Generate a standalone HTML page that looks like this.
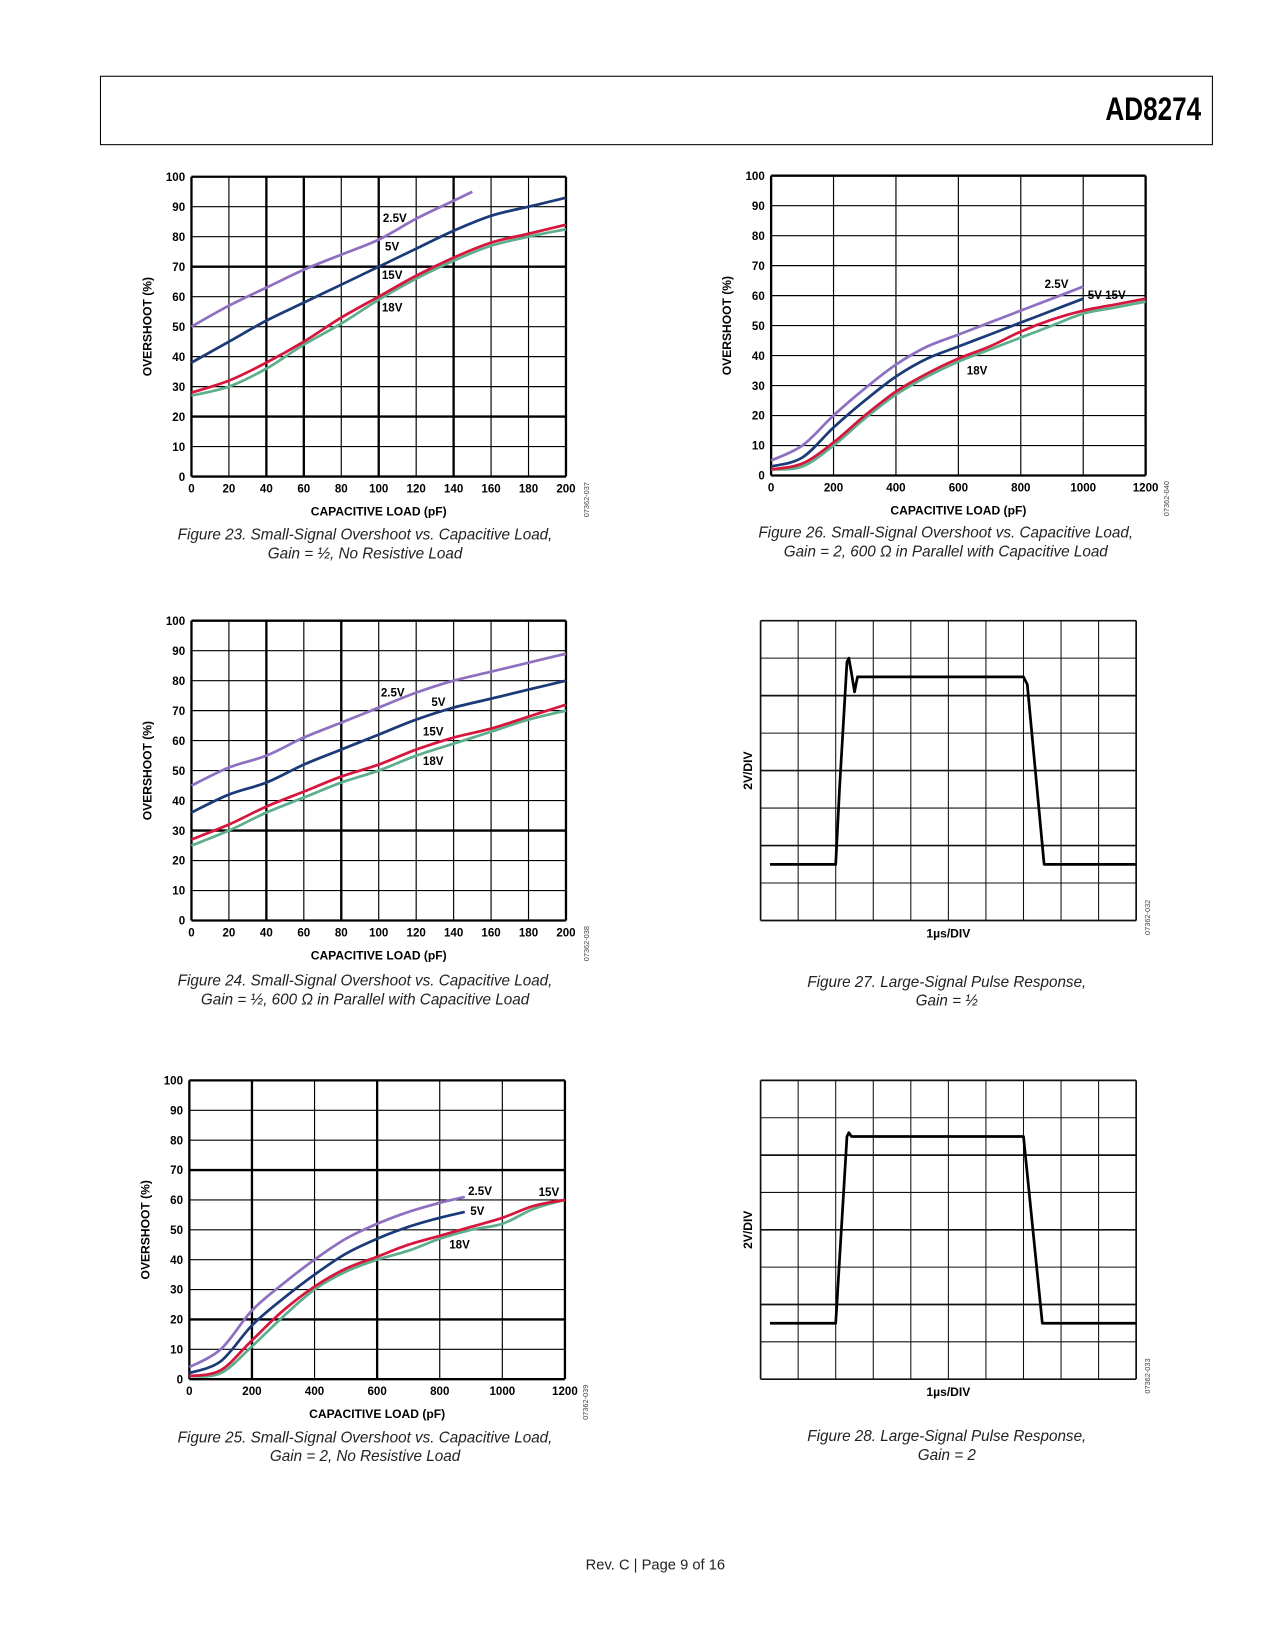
<!DOCTYPE html>
<html><head><meta charset="utf-8">
<style>
html,body{margin:0;padding:0;background:#fff;}
body{width:1275px;height:1650px;position:relative;overflow:hidden;font-family:"Liberation Sans",sans-serif;}
#wrap{position:absolute;left:0;top:0;width:1212px;height:1569px;transform:scale(1.052);transform-origin:0 0;}
svg text{font-family:"Liberation Sans",sans-serif;}
.cap{position:absolute;width:500px;text-align:center;font-style:italic;font-size:14.5px;line-height:18px;color:#222;}
</style></head>
<body>
<div id="wrap">
<div style="position:absolute;left:95px;top:72px;width:1056px;height:64px;border:1.5px solid #000;"></div>
<div style="position:absolute;right:70px;top:86px;font-weight:bold;font-size:31px;transform:scaleX(0.8);transform-origin:100% 0;">AD8274</div>

<svg id="pg" width="1212" height="1569" style="position:absolute;left:0;top:0"></svg>

<div class="cap" style="left:97px;top:500px">Figure 23. Small-Signal Overshoot vs. Capacitive Load,<br>Gain = ½, No Resistive Load</div>
<div class="cap" style="left:649px;top:498px">Figure 26. Small-Signal Overshoot vs. Capacitive Load,<br>Gain = 2, 600 Ω in Parallel with Capacitive Load</div>
<div class="cap" style="left:97px;top:924px">Figure 24. Small-Signal Overshoot vs. Capacitive Load,<br>Gain = ½, 600 Ω in Parallel with Capacitive Load</div>
<div class="cap" style="left:650px;top:925px">Figure 27. Large-Signal Pulse Response,<br>Gain = ½</div>
<div class="cap" style="left:97px;top:1358px">Figure 25. Small-Signal Overshoot vs. Capacitive Load,<br>Gain = 2, No Resistive Load</div>
<div class="cap" style="left:650px;top:1357px">Figure 28. Large-Signal Pulse Response,<br>Gain = 2</div>
<div style="position:absolute;left:0;width:1246px;top:1479px;text-align:center;font-size:14px;color:#222;">Rev. C | Page 9 of 16</div>
</div>

<script>
// ---- Figure 23 data ----
const f23x25 = [0,20,40,60,80,100,120,140,150];
const f23y25 = [50,57,63,69,74,79,86,92,95];
const f23x5 = [0,20,40,60,80,100,120,140,160,180,200];
const f23y5 = [38,45,52,58,64,70,76,82,87,90,93];
const f23x15 = [0,20,40,60,80,100,120,140,160,180,200];
const f23y15 = [28,32,38,45,53,60,67,73,78,81,84];
const f23y18 = [27,30,36,44,51,59,66,72,77,80,82.5];
// ---- Figure 24 data ----
const f24x = [0,20,40,60,80,100,120,140,160,180,200];
const f24y25 = [45,51,55,61,66,71,76,80,83,86,89];
const f24y5 = [36,42,46,52,57,62,67,71,74,77,80];
const f24y15 = [27,32,38,43,48,52,57,61,64,68,72];
const f24y18 = [25,30,36,41,46,50,55,59,63,67,70];
// ---- Figure 25 data ----
const f25xa = [0,100,200,300,400,500,600,700,800,880];
const f25y25 = [4,10,23,32,40,47,52,56,59,61];
const f25y5 = [2,6,18,27,35,42,47,51,54,56];
const f25xb = [0,100,200,300,400,500,600,700,800,900,1000,1100,1200];
const f25y15 = [1,3,13,23,31,37,41,45,48,51,54,58,60];
const f25y18 = [1,2,11,21,30,36,40,43,47,50,52,57,60];
// ---- Figure 26 data ----
const f26xa = [0,100,200,300,400,500,600,700,800,900,1000];
const f26y25 = [5,10,20,29,37,43,47,51,55,59,63];
const f26y5 = [3,6,16,25,33,39,43,47,51,55,59];
const f26xb = [0,100,200,300,400,500,600,700,800,900,1000,1100,1200];
const f26y15 = [2,4,11,20,28,34,39,43,48,52,55,57,59];
const f26y18 = [2,3,10,19,27,33,38,42,46,50,54,56,58];
// ---- Figure 27/28 scope traces (time div, volts div from bottom) ----
const f27t = [0.25,2.0,2.1,2.3,2.35,2.42,2.5,2.58,7.0,7.1,7.55,7.65,10];
const f27v = [1.5,1.5,3.5,6.9,7.0,6.6,6.1,6.5,6.5,6.3,1.5,1.5,1.5];
const f28t = [0.25,2.0,2.3,2.35,2.42,7.0,7.5,7.6,10];
const f28v = [1.5,1.5,6.5,6.6,6.5,6.5,1.5,1.5,1.5];

const NS='http://www.w3.org/2000/svg';
const svg=document.getElementById('pg');
function mk(tag,attrs,parent){const e=document.createElementNS(NS,tag);for(const k in attrs)e.setAttribute(k,attrs[k]);(parent||svg).appendChild(e);return e;}
const COL={p:'#8e70c0',b:'#1b3a78',r:'#d6163c',g:'#5eae8c'};

function smoothPath(pts){
  let d='M'+pts[0][0].toFixed(1)+','+pts[0][1].toFixed(1);
  for(let i=0;i<pts.length-1;i++){
    const p0=pts[i-1]||pts[i],p1=pts[i],p2=pts[i+1],p3=pts[i+2]||p2;
    const c1=[p1[0]+(p2[0]-p0[0])/6,p1[1]+(p2[1]-p0[1])/6];
    const c2=[p2[0]-(p3[0]-p1[0])/6,p2[1]-(p3[1]-p1[1])/6];
    d+=` C${c1[0].toFixed(1)},${c1[1].toFixed(1)} ${c2[0].toFixed(1)},${c2[1].toFixed(1)} ${p2[0].toFixed(1)},${p2[1].toFixed(1)}`;
  }
  return d;
}

function overshootChart(id,L,T,R,B,xmax,xstep,thickX,thickY,code,series,labels){
  const g=mk('g',{});
  
  
  const sx=v=>L+(R-L)*v/xmax, sy=v=>B-(B-T)*v/100;
  for(let v=0;v<=xmax;v+=xstep){
    const l=mk('line',{x1:sx(v),x2:sx(v),y1:T,y2:B,stroke:'#000','stroke-width':thickX.includes(v)||v===0||v===xmax?2.2:1.1},g);
    
    
    const t=mk('text',{x:sx(v),y:B+15,'text-anchor':'middle','font-size':11,'font-weight':'bold'},g);t.textContent=v;
    
    
  }
  for(let v=0;v<=100;v+=10){
    const l=mk('line',{x1:L,x2:R,y1:sy(v),y2:sy(v),stroke:'#000','stroke-width':thickY.includes(v)||v===0||v===100?2.2:1.1},g);
    
    
    const t=mk('text',{x:L-6,y:sy(v)+4,'text-anchor':'end','font-size':11,'font-weight':'bold'},g);t.textContent=v;
    
    
  }
  const yt=mk('text',{x:0,y:0,transform:`translate(${L-38},${(T+B)/2}) rotate(-90)`,'text-anchor':'middle','font-size':11.5,'font-weight':'bold'},g);yt.textContent='OVERSHOOT (%)';
  
  
  const xt=mk('text',{x:(L+R)/2,y:B+37,'text-anchor':'middle','font-size':11.5,'font-weight':'bold'},g);xt.textContent='CAPACITIVE LOAD (pF)';
  
  
  const ct=mk('text',{x:0,y:0,transform:`translate(${R+22},${B+22}) rotate(-90)`,'text-anchor':'middle','font-size':7,fill:'#444'},g);ct.textContent=code;
  
  
  series.forEach(s=>{
    const pts=s.xs.map((x,i)=>[sx(x),sy(s.ys[i])]);
    const p=mk('path',{d:smoothPath(pts),fill:'none',stroke:s.c,'stroke-width':2.6,'stroke-linejoin':'round'},g);
    
    
  });
  labels.forEach(lb=>{
    const t=mk('text',{x:lb[1],y:lb[2],'font-size':11,'font-weight':'bold'},g);t.textContent=lb[0];
    
    
  });
}

overshootChart('figure-23-chart',182,168,538,453,200,20,[40,60,100,140],[70,20],'07362-037',
 [{n:'series-18v',c:COL.g,xs:f23x15,ys:f23y18},{n:'series-15v',c:COL.r,xs:f23x15,ys:f23y15},{n:'series-5v',c:COL.b,xs:f23x5,ys:f23y5},{n:'series-2-5v',c:COL.p,xs:f23x25,ys:f23y25}],
 [['2.5V',364,211],['5V',366,238],['15V',363,265],['18V',363,296]]);
overshootChart('figure-24-chart',182,590,538,875,200,20,[40,80],[30],'07362-038',
 [{n:'series-18v',c:COL.g,xs:f24x,ys:f24y18},{n:'series-15v',c:COL.r,xs:f24x,ys:f24y15},{n:'series-5v',c:COL.b,xs:f24x,ys:f24y5},{n:'series-2-5v',c:COL.p,xs:f24x,ys:f24y25}],
 [['2.5V',362,662],['5V',410,671],['15V',402,699],['18V',402,727]]);
overshootChart('figure-25-chart',180,1027,537,1311,1200,200,[200,600],[70,20],'07362-039',
 [{n:'series-18v',c:COL.g,xs:f25xb,ys:f25y18},{n:'series-15v',c:COL.r,xs:f25xb,ys:f25y15},{n:'series-5v',c:COL.b,xs:f25xa,ys:f25y5},{n:'series-2-5v',c:COL.p,xs:f25xa,ys:f25y25}],
 [['2.5V',445,1136],['5V',447,1155],['18V',427,1187],['15V',512,1137]]);
overshootChart('figure-26-chart',733,167,1089,452,1200,200,[],[],'07362-040',
 [{n:'series-18v',c:COL.g,xs:f26xb,ys:f26y18},{n:'series-15v',c:COL.r,xs:f26xb,ys:f26y15},{n:'series-5v',c:COL.b,xs:f26xa,ys:f26y5},{n:'series-2-5v',c:COL.p,xs:f26xa,ys:f26y25}],
 [['2.5V',993,274],['5V 15V',1034,284],['18V',919,356]]);

function scope(id,L,T,R,B,code,ts,vs){
  const g=mk('g',{});
  
  
  const cw=(R-L)/10,rh=(B-T)/8;
  for(let i=0;i<=10;i++){
    const l=mk('line',{x1:L+i*cw,x2:L+i*cw,y1:T,y2:B,stroke:'#111','stroke-width':i===0||i===10?1.6:1},g);
    
    
  }
  for(let j=0;j<=8;j++){
    const l=mk('line',{x1:L,x2:R,y1:T+j*rh,y2:T+j*rh,stroke:'#111','stroke-width':(j%2===0)?1.6:1},g);
    
    
  }
  const d=ts.map((t,i)=>(i?'L':'M')+(L+t*cw).toFixed(1)+','+(B-vs[i]*rh).toFixed(1)).join(' ');
  const p=mk('path',{d,fill:'none',stroke:'#000','stroke-width':2.6,'stroke-linejoin':'round'},g);
  
  
  const yt=mk('text',{x:0,y:0,transform:`translate(${L-8},${(T+B)/2}) rotate(-90)`,'text-anchor':'middle','font-size':11.5,'font-weight':'bold'},g);yt.textContent='2V/DIV';
  
  
  const xt=mk('text',{x:(L+R)/2,y:B+16,'text-anchor':'middle','font-size':11.5,'font-weight':'bold'},g);xt.textContent='1µs/DIV';
  
  
  const ct=mk('text',{x:0,y:0,transform:`translate(${R+13},${B-3}) rotate(-90)`,'text-anchor':'middle','font-size':7,fill:'#444'},g);ct.textContent=code;
  
  
}
scope('figure-27-chart',723,590,1080,875,'07362-032',f27t,f27v);
scope('figure-28-chart',723,1027,1080,1311,'07362-033',f28t,f28v);
</script>
</body></html>
